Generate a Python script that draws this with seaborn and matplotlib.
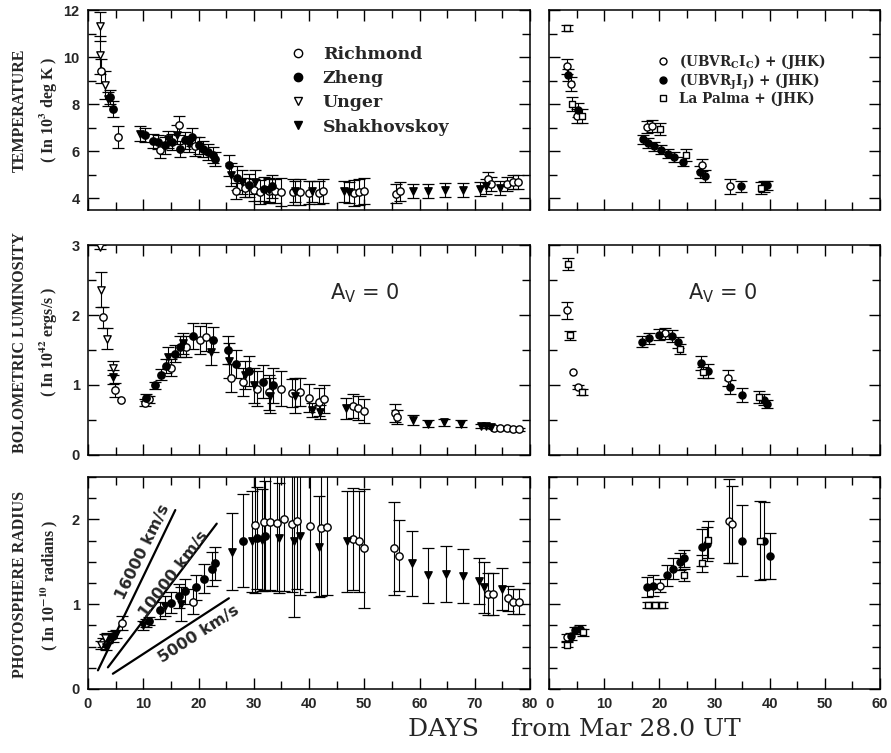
import numpy as np
import pandas as pd
import matplotlib
matplotlib.use("Agg")
import matplotlib.pyplot as plt
from matplotlib.ticker import MultipleLocator
from matplotlib.lines import Line2D
import seaborn as sns

# ---- left column: (day, value, error) ----
temp_richmond = [(2.4, 9.4, 0.5), (5.4, 6.6, 0.45), (13.0, 6.05, 0.35), (16.4, 7.1, 0.4),
                 (19.4, 6.2, 0.4), (26.7, 4.3, 0.35), (28.5, 4.45, 0.4), (30.0, 4.35, 0.45),
                 (31.2, 4.27, 0.5), (32.7, 4.3, 0.5), (33.9, 4.3, 0.5), (35.0, 4.27, 0.6),
                 (37.1, 4.27, 0.55), (38.3, 4.27, 0.55), (40.0, 4.24, 0.5), (41.9, 4.24, 0.5),
                 (42.5, 4.3, 0.5), (48.2, 4.24, 0.55), (49.1, 4.26, 0.55), (50.0, 4.3, 0.55),
                 (55.8, 4.2, 0.4), (56.4, 4.3, 0.4), (72.4, 4.8, 0.3), (73.0, 4.6, 0.3),
                 (75.8, 4.6, 0.3), (77.0, 4.7, 0.3), (77.9, 4.7, 0.3)]
temp_zheng = [(3.9, 8.3, 0.3), (4.5, 7.8, 0.35), (10.3, 6.68, 0.3), (11.8, 6.45, 0.3),
              (12.7, 6.4, 0.3), (13.9, 6.25, 0.35), (15.2, 6.4, 0.35), (16.7, 6.1, 0.35),
              (17.6, 6.46, 0.35), (18.8, 6.6, 0.4), (20.0, 6.25, 0.35), (20.9, 6.1, 0.35),
              (21.8, 5.97, 0.35), (22.7, 5.83, 0.35), (23.0, 5.65, 0.3), (25.5, 5.4, 0.45),
              (27.0, 4.85, 0.5), (29.1, 4.55, 0.5), (31.8, 4.4, 0.5), (33.3, 4.5, 0.5)]
temp_unger = [(2.1, 11.3, 0.6), (2.2, 10.1, 0.8), (3.1, 8.8, 0.6)]
temp_shakh = [(3.7, 8.2, 0.3), (9.4, 6.75, 0.3), (14.5, 6.5, 0.35), (16.1, 6.7, 0.4),
              (18.2, 6.3, 0.35), (25.8, 5.0, 0.5), (27.9, 4.7, 0.5), (30.3, 4.7, 0.5),
              (32.7, 4.35, 0.5), (37.5, 4.3, 0.45), (40.5, 4.3, 0.45), (46.4, 4.3, 0.45),
              (47.3, 4.25, 0.45), (58.8, 4.3, 0.3), (61.5, 4.3, 0.3), (64.7, 4.35, 0.3),
              (67.8, 4.35, 0.3), (71.0, 4.4, 0.3), (72.0, 4.5, 0.3), (74.5, 4.45, 0.3)]

lum_richmond = [(2.65, 1.97, 0.15), (4.8, 0.93, 0.1), (5.9, 0.78, 0.0), (10.3, 0.75, 0.05),
                (11.0, 0.8, 0.05), (15.0, 1.25, 0.12), (17.8, 1.55, 0.15), (20.2, 1.65, 0.2),
                (21.4, 1.68, 0.2), (25.9, 1.1, 0.2), (28.0, 1.05, 0.2), (30.5, 0.95, 0.25),
                (32.7, 0.9, 0.25), (35.0, 0.95, 0.25), (37.0, 0.89, 0.2), (38.3, 0.9, 0.2),
                (40.0, 0.82, 0.2), (41.8, 0.76, 0.2), (42.7, 0.8, 0.2), (47.9, 0.7, 0.17),
                (48.8, 0.67, 0.17), (50.0, 0.63, 0.17), (55.5, 0.6, 0.13), (56.0, 0.55, 0.1),
                (73.5, 0.39, 0.02), (74.5, 0.38, 0.02), (75.8, 0.38, 0.02), (77.0, 0.37, 0.02),
                (78.0, 0.37, 0.02)]
lum_zheng = [(10.5, 0.82, 0.05), (12.2, 1.0, 0.05), (13.3, 1.15, 0.08), (14.2, 1.27, 0.1),
             (15.7, 1.45, 0.12), (16.6, 1.55, 0.15), (19.0, 1.7, 0.18), (22.6, 1.65, 0.18),
             (25.3, 1.5, 0.2), (26.8, 1.3, 0.2), (29.2, 1.2, 0.22), (31.7, 1.05, 0.23),
             (33.5, 1.0, 0.25)]
lum_unger = [(2.2, 2.97, 0.03), (2.4, 2.36, 0.25), (3.4, 1.66, 0.15), (4.5, 1.24, 0.1)]
lum_shakh = [(4.6, 1.12, 0.1), (14.5, 1.4, 0.15), (17.2, 1.6, 0.15), (22.3, 1.47, 0.18),
             (25.6, 1.35, 0.25), (28.5, 1.15, 0.2), (30.0, 1.0, 0.25), (33.0, 0.85, 0.25),
             (37.5, 0.85, 0.25), (40.5, 0.65, 0.1), (42.0, 0.62, 0.1), (46.7, 0.67, 0.15),
             (58.8, 0.5, 0.07), (61.5, 0.45, 0.05), (64.5, 0.47, 0.05), (67.6, 0.45, 0.05),
             (71.2, 0.42, 0.03), (72.0, 0.41, 0.03), (73.0, 0.40, 0.02)]

rad_richmond = [(2.7, 0.55, 0.05), (6.2, 0.78, 0.08), (10.5, 0.78, 0.05), (19.0, 1.03, 0.15),
                (30.2, 1.93, 0.8), (31.8, 1.97, 0.8), (33.0, 1.97, 0.8), (34.2, 1.96, 0.8),
                (35.5, 2.0, 0.85), (37.0, 1.94, 0.8), (37.9, 1.98, 0.8), (40.2, 1.92, 0.78),
                (42.1, 1.9, 0.8), (43.2, 1.91, 0.8), (48.0, 1.77, 0.6), (49.0, 1.74, 0.6),
                (50.0, 1.66, 0.7), (55.3, 1.66, 0.55), (56.3, 1.57, 0.42), (72.4, 1.12, 0.25),
                (73.3, 1.12, 0.25), (76.0, 1.07, 0.15), (77.0, 1.03, 0.15), (78.0, 1.03, 0.15)]
rad_zheng = [(3.5, 0.6, 0.06), (4.5, 0.62, 0.06), (11.0, 0.8, 0.05), (13.0, 0.93, 0.1),
             (15.0, 1.02, 0.12), (16.5, 1.1, 0.14), (17.5, 1.15, 0.15), (19.5, 1.2, 0.15),
             (21.0, 1.3, 0.17), (22.4, 1.41, 0.2), (23.0, 1.48, 0.2), (28.0, 1.75, 0.55),
             (30.5, 1.78, 0.6), (32.0, 1.8, 0.65)]
rad_unger = [(2.3, 0.52, 0.05), (3.0, 0.6, 0.05)]
rad_shakh = [(3.2, 0.5, 0.04), (5.0, 0.65, 0.05), (10.0, 0.75, 0.05), (14.0, 0.98, 0.12),
             (16.8, 1.0, 0.2), (26.0, 1.62, 0.45), (29.7, 1.74, 0.6), (31.5, 1.76, 0.6),
             (34.5, 1.78, 0.65), (37.3, 1.75, 0.9), (38.4, 1.81, 0.7), (41.8, 1.68, 0.6),
             (46.8, 1.74, 0.6), (58.6, 1.48, 0.38), (61.5, 1.34, 0.32), (64.8, 1.36, 0.33),
             (67.8, 1.33, 0.32), (70.7, 1.27, 0.27), (71.6, 1.2, 0.3), (74.9, 1.18, 0.25)]

# ---- right column ----
temp_c = [(3.2, 9.6, 0.3), (3.9, 8.85, 0.3), (5.0, 7.5, 0.3), (17.7, 7.03, 0.25),
          (18.7, 7.07, 0.25), (27.7, 5.4, 0.25), (32.8, 4.5, 0.3)]
temp_j = [(3.5, 9.25, 0.25), (5.3, 7.75, 0.3), (17.0, 6.5, 0.2), (17.9, 6.35, 0.2),
          (19.1, 6.2, 0.2), (20.3, 6.07, 0.2), (21.5, 5.9, 0.2), (22.7, 5.75, 0.2),
          (24.2, 5.55, 0.2), (27.4, 5.1, 0.25), (28.2, 4.95, 0.25), (34.8, 4.5, 0.25),
          (39.0, 4.5, 0.25), (39.6, 4.55, 0.2)]
temp_lp = [(3.2, 11.22, 0.13), (4.2, 8.0, 0.3), (5.9, 7.5, 0.3), (20.1, 6.95, 0.25),
           (24.8, 5.85, 0.25), (38.4, 4.45, 0.25)]

lum_c = [(3.2, 2.07, 0.12), (4.4, 1.19, 0.0), (5.2, 0.97, 0.03), (21.0, 1.74, 0.08),
         (32.5, 1.1, 0.12)]
lum_j = [(16.8, 1.62, 0.08), (18.2, 1.67, 0.08), (20.0, 1.72, 0.08), (22.3, 1.7, 0.08),
         (23.3, 1.61, 0.08), (27.6, 1.31, 0.1), (28.8, 1.2, 0.1), (32.8, 0.97, 0.1),
         (34.9, 0.86, 0.1), (39.0, 0.79, 0.08), (39.6, 0.73, 0.06)]
lum_lp = [(3.4, 2.73, 0.08), (3.8, 1.71, 0.06), (5.9, 0.9, 0.04), (23.7, 1.52, 0.07),
          (27.9, 1.18, 0.08), (38.1, 0.83, 0.08)]

rad_c = [(3.2, 0.61, 0.04), (20.1, 1.22, 0.08), (32.7, 1.98, 0.5), (33.1, 1.94, 0.45)]
rad_j = [(3.9, 0.62, 0.04), (4.7, 0.69, 0.04), (5.6, 0.71, 0.04), (17.7, 1.2, 0.12),
         (18.9, 1.22, 0.12), (21.3, 1.34, 0.12), (22.5, 1.42, 0.12), (23.7, 1.5, 0.1),
         (24.5, 1.54, 0.1), (27.7, 1.67, 0.22), (28.6, 1.71, 0.2), (34.9, 1.75, 0.42),
         (39.0, 1.75, 0.45), (40.0, 1.57, 0.27)]
rad_lp = [(3.2, 0.52, 0.03), (6.2, 0.67, 0.04), (18.0, 0.99, 0.04), (19.3, 0.99, 0.04),
          (20.5, 0.99, 0.04), (24.5, 1.34, 0.07), (27.7, 1.48, 0.1), (28.8, 1.76, 0.22),
          (38.3, 1.75, 0.47)]

# expansion-velocity guide lines in the radius panel
vel_labels = ["16000 km/s", "10000 km/s", "5000 km/s"]
vel_day0 = [1.8, 3.6, 4.5]
vel_r0 = [0.22, 0.255, 0.18]
vel_day1 = [15.8, 23.3, 25.5]
vel_r1 = [2.11, 1.95, 1.07]

left_names = ["Richmond", "Zheng", "Unger", "Shakhovskoy"]
right_names = [r"(UBVR$_{C}$I$_{C}$) + (JHK)", r"(UBVR$_{J}$I$_{J}$) + (JHK)", "La Palma + (JHK)"]

sns.set_theme(style="ticks")
plt.rcParams["font.family"] = ["DejaVu Serif"]
plt.rcParams["mathtext.fontset"] = "dejavuserif"
plt.rcParams["mathtext.default"] = "bf"

# marker, filled
left_styles = [("o", False), ("o", True), ("v", False), ("v", True)]
right_styles = [("o", False), ("o", True), ("s", False)]


def draw_series(ax, rows, marker, filled, size=28):
    df = pd.DataFrame(rows, columns=["day", "value", "err"])
    eb = df[df.err > 0]
    ax.errorbar(eb.day, eb.value, yerr=eb.err, fmt="none", ecolor="black",
                elinewidth=0.8, capsize=4.5, capthick=0.9, zorder=2)
    sns.scatterplot(data=df, x="day", y="value", ax=ax, marker=marker, s=size,
                    facecolor="black" if filled else "white", edgecolor="black",
                    linewidth=1.0, zorder=3, legend=False)


def style_axis(ax, xmax, ylim, ymaj, ymin, show_x, show_y):
    ax.set_xlim(0, xmax)
    ax.set_ylim(*ylim)
    ax.xaxis.set_major_locator(MultipleLocator(10))
    ax.xaxis.set_minor_locator(MultipleLocator(5))
    ax.yaxis.set_major_locator(MultipleLocator(ymaj))
    ax.yaxis.set_minor_locator(MultipleLocator(ymin))
    ax.tick_params(which="both", direction="in", top=True, right=True, color="black",
                   labelbottom=show_x, labelleft=show_y, pad=6)
    ax.tick_params(which="major", length=8, width=1.0)
    ax.tick_params(which="minor", length=6, width=1.0)
    for lab in ax.get_xticklabels() + ax.get_yticklabels():
        lab.set_fontfamily("Liberation Sans")
        lab.set_fontweight("bold")
        lab.set_fontsize(10.5)
    for sp in ax.spines.values():
        sp.set_linewidth(1.1)
        sp.set_color("black")
    ax.set_xlabel("")
    ax.set_ylabel("")


fig = plt.figure(figsize=(8.91, 7.53), dpi=100)
W, H = 891.0, 753.0
rows_px = [(10, 210), (245, 455), (477, 689)]
cols_px = [(88, 530), (549, 880)]
axes = []
for top, bot in rows_px:
    row = []
    for l, r in cols_px:
        row.append(fig.add_axes([l / W, 1 - bot / H, (r - l) / W, (bot - top) / H]))
    axes.append(row)

left_data = [[temp_richmond, temp_zheng, temp_unger, temp_shakh],
             [lum_richmond, lum_zheng, lum_unger, lum_shakh],
             [rad_richmond, rad_zheng, rad_unger, rad_shakh]]
right_data = [[temp_c, temp_j, temp_lp], [lum_c, lum_j, lum_lp], [rad_c, rad_j, rad_lp]]
ylims = [(3.5, 12), (0, 3), (0, 2.5)]
ymajor = [2, 1, 1]
yminor = [1, 0.5, 0.25]

for i in range(3):
    axL, axR = axes[i]
    for rows, (m, f) in zip(left_data[i], left_styles):
        draw_series(axL, rows, m, f)
    for rows, (m, f) in zip(right_data[i], right_styles):
        draw_series(axR, rows, m, f, size=26 if m == "o" else 22)
    style_axis(axL, 80, ylims[i], ymajor[i], yminor[i], i == 2, True)
    style_axis(axR, 60, ylims[i], ymajor[i], yminor[i], i == 2, False)

# legends
hl = [Line2D([], [], ls="none", marker=m, ms=6, mfc="black" if f else "white",
             mec="black", mew=1.0) for m, f in left_styles]
axes[0][0].legend(hl, left_names, loc="upper left", bbox_to_anchor=(0.425, 0.9),
                  frameon=False, handlelength=0.8, handletextpad=1.0, labelspacing=0.42,
                  prop={"family": "DejaVu Serif", "weight": "bold", "size": 12.5})
hr = [Line2D([], [], ls="none", marker=m, ms=5, mfc="black" if f else "white",
             mec="black", mew=1.0) for m, f in right_styles]
axes[0][1].legend(hr, right_names, loc="upper left", bbox_to_anchor=(0.29, 0.85),
                  frameon=False, handlelength=0.8, handletextpad=0.8, labelspacing=0.0,
                  prop={"family": "DejaVu Serif", "weight": "bold", "size": 9.8})

# A_V = 0 annotations
for ax, xf in [(axes[1][0], 0.627), (axes[1][1], 0.526)]:
    ax.text(xf, 0.77, r"A$_{\mathsf{V}}$ = 0", transform=ax.transAxes, ha="center", va="center",
            fontsize=15, family="DejaVu Sans", math_fontfamily="dejavusans")

# velocity lines
axb = axes[2][0]
rot = [64, 53, 33]
lab_pos = [(9.9, 1.62), (15.5, 1.35), (20.0, 0.65)]
for lab, d0, r0, d1, r1, a, (tx, ty) in zip(vel_labels, vel_day0, vel_r0, vel_day1, vel_r1, rot, lab_pos):
    sns.lineplot(x=[d0, d1], y=[r0, r1], ax=axb, color="black", linewidth=1.6)
    axb.text(tx, ty, lab, rotation=a, rotation_mode="anchor", ha="center", va="center",
             fontsize=11.5, fontweight="bold", family="DejaVu Sans")
axb.set_xlabel("")
axb.set_ylabel("")

# y labels (two lines each)
ylab1 = ["TEMPERATURE", "BOLOMETRIC LUMINOSITY", "PHOTOSPHERE RADIUS"]
ylab2 = [r"( In 10$^{3}$ deg K )", r"( In 10$^{42}$ ergs/s )", r"( In 10$^{-10}$ radians )"]
ycent = [110, 342, 585]
for a, b, yc in zip(ylab1, ylab2, ycent):
    fig.text(20 / W, 1 - yc / H, a, rotation=90, ha="center", va="center",
             fontsize=11.5, fontweight="bold", family="Liberation Serif")
    fig.text(49 / W, 1 - yc / H, b, rotation=90, ha="center", va="center",
             fontsize=11.5, fontweight="bold", family="Liberation Serif",
             math_fontfamily="stix")

fig.text(574 / W, 1 - 730 / H, "DAYS    from Mar 28.0 UT", ha="center", va="center",
         fontsize=18, family="DejaVu Serif")

fig.savefig("out.png", dpi=100, facecolor="white")
